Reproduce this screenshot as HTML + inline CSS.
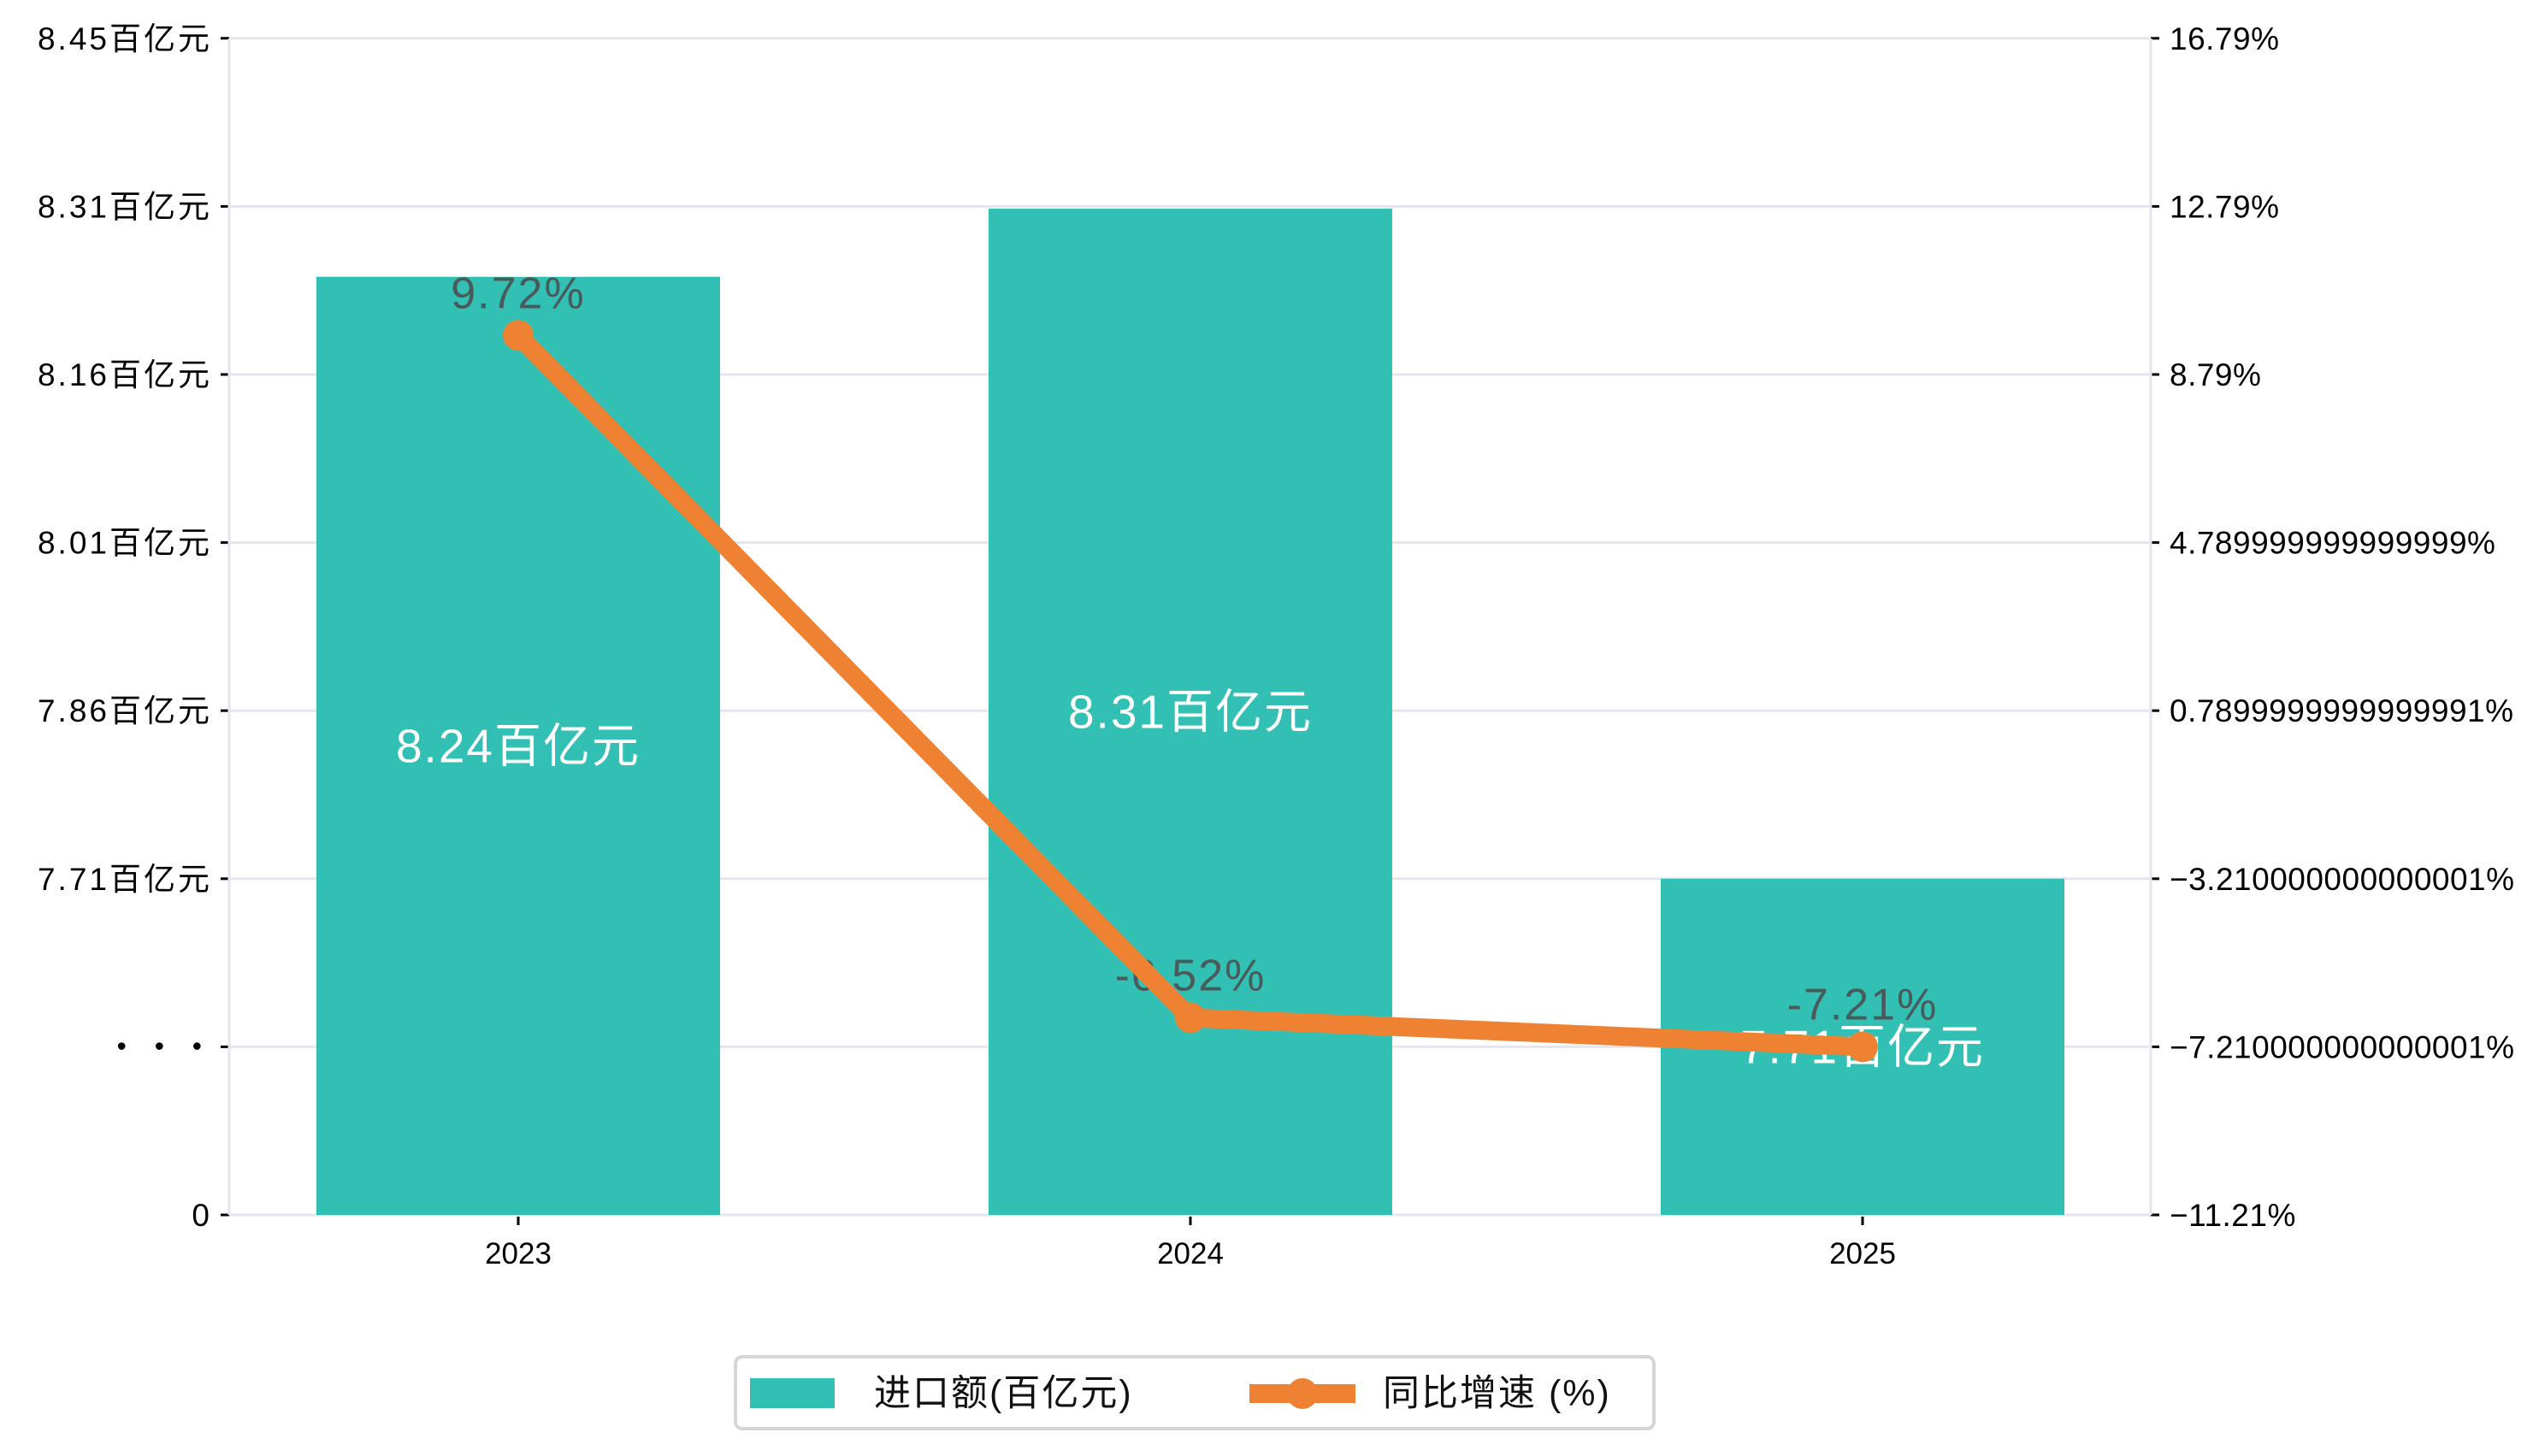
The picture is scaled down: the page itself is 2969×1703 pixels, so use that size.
<!DOCTYPE html>
<html><head><meta charset="utf-8"><style>
html,body{margin:0;padding:0;background:#fff;}
svg{display:block;font-family:"Liberation Sans","WenQuanYi Zen Hei","Noto Sans CJK SC",sans-serif;}
</style></head><body>
<svg id="chart" width="2969" height="1703" viewBox="0 0 2969 1703" xmlns="http://www.w3.org/2000/svg">
<g id="grid"></g>
<g id="bars"></g>
<g id="axes"></g>
<g id="labels"></g>
<g id="line"></g>
<g id="legend">
  <rect x="860" y="1587" width="1074" height="84" rx="8" fill="#fff" stroke="#d6d6d6" stroke-width="4"/>
  <rect x="877" y="1612" width="99" height="35" fill="#31C0B3"/>
  <text x="1022" y="1644" font-size="43" letter-spacing="2" fill="#111">进口额(百亿元)</text>
  <line x1="1461" y1="1630" x2="1585" y2="1630" stroke="#EE8232" stroke-width="22"/>
  <circle cx="1523" cy="1630" r="18" fill="#EE8232"/>
  <text x="1617" y="1644" font-size="43" letter-spacing="2" fill="#111">同比增速 (%)</text>
</g>
</svg>
<script>
const categories = ["2023","2024","2025"];
const importValues = [8.24, 8.30, 7.71];
const importLabels = ["8.24百亿元","8.31百亿元","7.71百亿元"];
const growthValues = [9.72, -6.52, -7.21];
const growthLabels = ["9.72%","-6.52%","-7.21%"];
const leftTickLabels = ["0","• • •","7.71百亿元","7.86百亿元","8.01百亿元","8.16百亿元","8.31百亿元","8.45百亿元"];
const rightTickValues = [-11.21,-7.21,-3.21,0.79,4.79,8.79,12.79,16.79];
const rightTickLabels = ["−11.21%","−7.210000000000001%","−3.210000000000001%","0.7899999999999991%","4.789999999999999%","8.79%","12.79%","16.79%"];

const NS="http://www.w3.org/2000/svg";
const L=268, R=2515, B=1421, T=45, STEP=196.6;
function mk(tag,attrs,parent){const e=document.createElementNS(NS,tag);for(const k in attrs)e.setAttribute(k,attrs[k]);parent.appendChild(e);return e;}
function xPos(i){return 606 + i*786;}
function yLeft(v){ if(v<=0) return B; return B - 2*STEP - (v-7.71)/0.148*STEP; }
function yRight(p){ return B - (p+11.21)/4*STEP; }

const grid=document.getElementById('grid'), axes=document.getElementById('axes'),
 bars=document.getElementById('bars'), labels=document.getElementById('labels'), line=document.getElementById('line');

for(let i=0;i<leftTickLabels.length;i++){
  const y=B-i*STEP;
  const g=mk('line',{x1:L,x2:R,y1:y,y2:y,stroke:'#E3E6F0','stroke-width':3},grid);
  
  
  mk('line',{x1:L-10,x2:L,y1:y,y2:y,stroke:'#000','stroke-width':3},axes);
  const isDots = i===1;
  const t=mk('text',{x:L-20,y:y+(isDots?10:13),'font-size':isDots?32:37,'letter-spacing':isDots?12:3,'text-anchor':'end',fill:'#000'},axes);
  t.textContent=leftTickLabels[i];
  
  
}
for(let i=0;i<rightTickValues.length;i++){
  const y=yRight(rightTickValues[i]);
  mk('line',{x1:R,x2:R+10,y1:y,y2:y,stroke:'#000','stroke-width':3},axes);
  const t=mk('text',{x:R+22,y:y+13,'font-size':37,'letter-spacing':0.5,fill:'#000'},axes);
  t.textContent=rightTickLabels[i];
  
  
}
mk('line',{x1:L,x2:L,y1:T,y2:B,stroke:'#E3E6F0','stroke-width':3},axes);
mk('line',{x1:R,x2:R,y1:T,y2:B,stroke:'#E3E6F0','stroke-width':3},axes);

categories.forEach((c,i)=>{
  const x=xPos(i), w=472, y=yLeft(importValues[i]);
  const r=mk('rect',{x:x-w/2,y:y,width:w,height:B-y,fill:'#31C0B3'},bars);
  
  
  mk('line',{x1:x,x2:x,y1:B+2,y2:B+12,stroke:'#000','stroke-width':3},axes);
  const t=mk('text',{x:x,y:1478,'font-size':35,'text-anchor':'middle',fill:'#000'},axes);
  t.textContent=c;
  
  
  const vl=mk('text',{x:x,y:(y+B)/2+19,'font-size':55,'letter-spacing':2,'text-anchor':'middle',fill:'#fff'},labels);
  vl.textContent=importLabels[i];
  
  
  const gl=mk('text',{x:x,y:yRight(growthValues[i])-32,'font-size':52,'letter-spacing':2,'text-anchor':'middle',fill:'#4a5a5a'},labels);
  gl.textContent=growthLabels[i];
  
  
});
const pts=growthValues.map((p,i)=>xPos(i)+','+yRight(p)).join(' ');
const pl=mk('polyline',{points:pts,fill:'none',stroke:'#EE8232','stroke-width':22,'stroke-linejoin':'round'},line);


growthValues.forEach((p,i)=>{
  const c=mk('circle',{cx:xPos(i),cy:yRight(p),r:18,fill:'#EE8232'},line);
  
  
});
</script>
</body></html>
